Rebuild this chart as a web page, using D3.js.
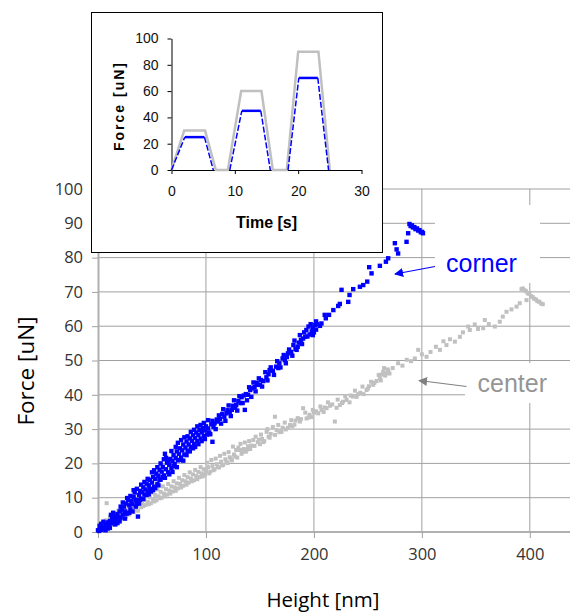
<!DOCTYPE html>
<html>
<head>
<meta charset="utf-8">
<script src="https://cdn.jsdelivr.net/npm/d3@7"></script>
<style>
  body { margin: 0; background: #fff; }
  svg { display: block; }
</style>
</head>
<body>
<svg id="chart" width="570" height="615"></svg>
<script>
// main chart ticks
var heightTicks = [0, 100, 200, 300, 400];
var forceTicks = [0, 10, 20, 30, 40, 50, 60, 70, 80, 90, 100];

// corner: [height nm, force uN]
var cornerPoints = [
  [0,0.5],[1,0.3],[2,1],[3,0.6],[1.5,1.8],[4,1.2],[5,0.8],[6,1.5],[7,2.2],[8,1.4],[9,2.8],[10,2],
  [11,3.2],[12,2.5],[13,4.1],[14,3],[15,3.8],[16,4.6],[17,3.5],[18,5.2],[19,4.4],[20,6],
  [21,4.2],[22,6.5],[23,5.1],[24,7.4],[25,6],[26,8.3],[27,5.4],[28,9.3],[29,7.8],[30,6.6],
  [31,9],[32,8.1],[33,10.2],[34,11.5],[35,9.4],[36,8.2],[37,4.5],[38,10.8],[39,12],[40,9.7],
  [41,11.6],[42,13],[43,10.9],[44,12.4],[45,14.1],[46,12],[47,13.6],[48,15.2],[49,11.8],[50,14.4],
  [51,16],[52,13.2],[53,15.5],[54,17],[55,14],[56,16.4],[57,18.1],[58,15.3],[59,17.6],[60,19],
  [61,16.5],[62,22.8],[63,18.3],[64,20.2],[65,17.4],[66,19.6],[67,21.3],[68,18.6],[69,20.7],[70,22.4],
  [71,19.8],[72,21.6],[73,23.5],[74,20.9],[75,22.8],[76,24.4],[77,21.7],[78,23.8],[79,25.5],[80,22.6],
  [81,24.6],[82,26.4],[83,23.7],[84,25.5],[85,27.3],[86,24.8],[87,26.6],[88,28.2],[89,25.7],[90,27.4],
  [91,29],[92,26.5],[93,28.3],[94,29.8],[95,27.2],[96,29.1],[97,30.3],[98,28],[99,29.6],[100,30.8],
  [3,2.4],[5,3],[7,0.5],[9,1],[11,1.2],[12,5],[14,5.6],[16,2.2],[18,2.6],[20,3.1],[21,7.4],[23,8.6],
  [25,3.9],[26,5.4],[27,9.9],[29,5.6],[30,10.5],[32,6],[33,12.2],[35,7.4],[36,12.6],[38,8.3],[39,9.4],
  [40,13.8],[42,9.6],[43,14.6],[45,10.8],[46,15.5],[47,11],[48,12.6],[50,17.4],[51,12.2],[52,18],
  [53,12.8],[55,18.9],[56,13.6],[57,15.2],[58,20],[60,16],[61,21.2],[62,15.8],[63,21.6],[65,20.8],
  [66,16.8],[68,23.6],[69,17.5],[70,19.2],[72,24.8],[73,18.9],[74,26],[76,21],[77,26.8],[79,20.8],
  [80,27.6],[82,22.4],[83,27.9],[85,23.5],[86,29.2],[88,24.4],[89,29.8],[90,24.8],[92,30.8],[93,25.6],
  [95,31.2],[96,26.5],[98,31.8],[99,27.1],
  [101,28.4],[102,30.2],[103,29],[105,31.4],[106,26.3],[107,30.6],[108,31.7],[110,32.8],[111,32.2],
  [113,33],[115,34.4],[117,33.6],[119,34.6],[120,35.5],[122,35],[124,35.6],[125,36.8],[127,36.2],
  [128,37],[130,38.2],[132,37.6],[133,39.3],[135,39.8],[136,35.6],[137,40.2],[139,40],[141,41.4],
  [143,41.9],[145,42.3],[147,43.5],[148,42.9],[150,42.9],
  [102,32.6],[104,28.5],[106,32.4],[109,30],[112,34],[114,31.6],[116,35.8],[118,32.4],[121,36.9],
  [123,33.8],[126,38.4],[129,35.4],[131,39.6],[134,37.6],[138,38.4],[140,42.2],[142,39.4],[144,43.6],
  [146,41],[149,44.8],[152,42.4],[155,46.6],[157,44.2],[160,48],[163,45.8],[166,49.8],[169,48],
  [172,51.6],[174,49.2],[177,53.2],[180,51.4],[182,55.8],[185,54],[187,57.4],[189,54.8],[191,58.2],
  [194,57],[197,60.6],[199,57.4],[202,61.4],
  [151,44.3],[153,44],[156,45.1],[158,46],[159,47.2],[162,47],[165,48.2],[167,47.8],[168,49.2],
  [171,50.6],[173,50.1],[175,51],[176,52.1],[179,52.5],[181,54.5],[183,53.4],[184,53.1],[186,55.2],
  [188,56],[190,56.4],[192,56.9],[193,58.9],[195,59.9],[196,57.6],[198,58.5],[199,59.5],[200,58.2],
  [201,60.3],[202,59],[203,60.6],
  [205.6,60.1],[207,60.8],[210,63.3],[211,62.3],[214,63.3],[218,64.7],[222.5,65.9],[224,66.5],
  [225.6,70.6],[231.8,67.1],[233,69.1],[236.4,70.8],[242.6,71.5],[245.7,72],[249.4,73],[251.2,77.2],
  [253.4,75.4],[261.1,77.6],[266.7,78.8],[268.8,79.8],[275,84.2],[276.6,82.4],[278,81.2],[285.8,84.6],
  [287.3,87.1],
  [288.5,89.8],[289.6,89.2],[290.8,89.4],[291.7,88.8],[293,88.9],[294.1,88.3],[295.5,88.5],
  [296.6,87.9],[297.8,88],[299,87.4],[300.2,87.5],[301,87.1]
];

// center: [height nm, force uN]
var centerPoints = [
  [1,0.4],[2,1.2],[3,0.5],[4,2.1],[5,1.4],[6,2.8],[7,1.9],[8,8.4],[9,3.1],[10,2.2],[11,3.6],[12,2.7],
  [13,4.2],[14,3.3],[15,4.8],[16,3.6],[17,5.3],[18,4.1],[19,5.7],[20,4.4],[22,5.2],[23,6.4],[24,4.8],
  [25,5.9],[27,6.6],[28,5.2],[30,6.1],
  [3,2],[5,0.6],[7,3.4],[9,1.5],[11,4.4],[13,2.1],[15,5.6],[17,2.9],[19,6.3],[21,3.6],[22,7],[24,6.5],
  [26,4.5],[27,7.8],[29,5.1],[31,8.4],[33,5.8],[34,9.2],[37,6.2],[39,9.8],[42,7.6],[45,10.6],[47,8.1],
  [50,11.5],[52,8.9],[55,12.4],[57,9.8],[60,13.3],[62,10.4],[65,14],[67,11.2],[70,14.8],[72,12],
  [75,15.8],[77,13],[80,16.6],[82,13.8],[85,17.4],[87,14.8],[90,18.1],[92,15.4],[95,18.9],[97,16.2],
  [32,6.8],[33,8],[35,6.4],[36,7.5],[38,8.6],[40,7.2],[41,8.3],[43,9.4],[44,7.9],[46,8.8],[48,10.1],
  [49,8.4],[51,9.6],[53,10.8],[54,9.2],[56,10.4],[58,11.7],[59,10],[61,11.2],[63,12.5],[64,10.9],
  [66,12.1],[68,13.3],[69,11.8],[71,13],[73,14.2],[74,12.7],[76,14],[78,15.1],[79,13.5],[81,14.8],
  [83,16],[84,14.4],[86,15.6],[88,16.8],[89,15.1],[91,16.3],[93,17.5],[94,16],[96,17.1],[98,18.3],
  [99,16.7],[100,17.8],
  [101,20.2],[103,17.1],[105,21],[107,18],[109,21.4],[111,19],[113,22.2],[115,19.4],[117,22.8],
  [119,20.4],[121,23.3],[123,21.4],[125,24.9],[127,22],[132,25.7],[134,23.4],[136,26.1],[138,24],
  [140,26.5],[142,25.2],[146,27.8],[149,26.9],[151,28.4],[153,26.2],[157,30],[159,27.5],[162,30.6],
  [164,28.3],[167,31.2],[170,29.2],[173,31.9],[176,30.4],[179,32.6],[182,31.3],[185,33.2],[188,32.9],
  [192,34.8],[195,33.4],[199,35.6],[202,35.2],[206,36.6],[210,36.3],[213,37.8],[217,37.2],[222,38.6],
  [226,37.6],[229,39.6],[234,39.8],[238,41.2],[241,40.2],[245,42.4],[250,41.8],[253,43.8],[256,43.5],
  [260,45.8],[262,44.2],[265,47.8],[269,46.8],
  [102,18.9],[104,17.6],[106,19.2],[108,18.3],[110,19.8],[112,18.8],[114,20.5],[116,19.6],[118,21.2],
  [120,20.1],[122,21.8],[124,20.9],[126,22.6],[128,23.9],[129,21.7],[130,24.6],[131.5,23.9],[133,22.8],
  [135,24.2],[137,23.4],[139,25],[141,24.2],[143.8,26.8],[145,25.1],[148,26.2],[150,25.6],[152,27.1],
  [154,26.5],[156.2,29.2],[158,27.8],[160,28.6],[163.9,33.6],[165.5,29.7],[168,29.1],[171,30.4],
  [174,29.9],[177.8,31.2],[180,30.8],[183,32.5],[187,32.2],[190,36.1],[193.2,33.1],[196,34.2],
  [198,33.5],[200,34.8],
  [204,34.6],[207,35.6],[209,35],[211.8,36.1],[215,36.8],[219.4,32.2],[221,36.2],[224,37],[227,38],
  [230.3,38.5],[233,37.8],[236,39.5],[239.5,39.4],[243,40.6],[246,40.2],[248.8,41.4],[251,42.5],
  [254.9,42.9],[258,44],[261.1,44.8],[263,45.9],[264.2,46.7],[266,45.6],[267.3,46.3],[268.5,47.4],
  [270,46.2],[273,47.8],[278,49.2],[282,48.5],[286,50.2],[290,49.8],[293.5,50.6],[296.6,53.1],[300,51.8],
  [304.3,51.1],[308,52.5],[313,54],[316.7,53.1],[320,55.6],[322.8,54.5],[326,56.2],[330.6,55.5],
  [335.2,56.9],[338,58.2],[342.9,59.9],[344.4,58.9],[349,60.5],[352,59.2],[356.8,59.4],[358.3,61.8],
  [362,60.6],[367.6,59.9],[372.2,61.3],[375,62.8],[378.4,64.2],[383,64.9],[387.7,65.7],[390.7,66.7],
  [392.3,70.8],[396.9,67.6],
  [393.5,71],[395,70.5],[396.4,70.2],[398,69.6],[399.5,69.4],[401,68.8],[402.6,68.5],[404,68],
  [405.7,67.8],[407,67.3],[408.8,67.1],[410.5,66.6],[412,66.4]
];

// inset: force vs time profiles
var insetTimeTicks = [0, 10, 20, 30];
var insetForceTicks = [0, 20, 40, 60, 80, 100];
var centerTime  = [0, 2, 5.3, 7, 8.9, 11, 14.2, 16, 18.2, 20, 23.2, 25];
var centerForce = [0, 30, 30, 0, 0, 60, 60, 0, 0, 90, 90, 0];
var cornerTime  = [0, 2.1, 5.2, 6.6, 9.2, 11.1, 14.1, 15.6, 18.4, 20.1, 23.1, 24.8];
var cornerForce = [0, 25, 25, 0, 0, 45, 45, 0, 0, 70, 70, 0];

var BLUE = '#0000ff', GRAY = '#c0c0c0';

var svg = d3.select('#chart');

var x = d3.scaleLinear().domain([0, 440]).range([98, 573]);
var y = d3.scaleLinear().domain([0, 100]).range([532, 189]);

// grid
var grid = svg.append('g');
grid.selectAll('.hg').data(forceTicks.slice(1)).join('line')
  .attr('x1', x(0)).attr('x2', x(440))
  .attr('y1', d => y(d)).attr('y2', d => y(d))
  .attr('stroke', '#a0a0a0').attr('stroke-width', 1);
grid.selectAll('.vg').data(heightTicks.slice(1)).join('line')
  .attr('x1', d => x(d)).attr('x2', d => x(d))
  .attr('y1', y(0)).attr('y2', y(100))
  .attr('stroke', '#a0a0a0').attr('stroke-width', 1);

// axes
var xAxis = svg.append('g')
  .attr('transform', 'translate(0,' + y(0) + ')')
  .call(d3.axisBottom(x).tickValues(heightTicks).tickSize(6).tickPadding(10).tickSizeOuter(0));
var yAxis = svg.append('g')
  .attr('transform', 'translate(' + x(0) + ',0)')
  .call(d3.axisLeft(y).tickValues(forceTicks).tickSize(6).tickPadding(9).tickSizeOuter(0));

[xAxis, yAxis].forEach(function(a) {
  a.select('.domain').attr('stroke', '#b0b0b0').attr('stroke-width', 2);
  a.selectAll('.tick line').attr('stroke', '#a0a0a0');
  a.selectAll('.tick text')
    .attr('fill', '#333')
    .style('font-family', '"Open Sans", sans-serif')
    .style('font-size', '16.5px');
});
xAxis.select('.domain').attr('d', 'M' + x(0) + ',0H' + x(440));

svg.append('text')
  .attr('x', 323).attr('y', 607)
  .attr('text-anchor', 'middle')
  .style('font-family', '"Open Sans", sans-serif')
  .style('font-size', '20.5px')
  .text('Height [nm]');

svg.append('text')
  .attr('transform', 'translate(34,371) rotate(-90)')
  .attr('text-anchor', 'middle')
  .style('font-family', '"Open Sans", sans-serif')
  .style('font-size', '22.5px')
  .text('Force [uN]');

// white label boxes
svg.append('rect').attr('x', 435).attr('y', 205).attr('width', 105).attr('height', 78).attr('fill', '#fff');
svg.append('rect').attr('x', 465).attr('y', 363).attr('width', 105).attr('height', 40).attr('fill', '#fff');

// scatter
svg.append('g').selectAll('rect').data(centerPoints).join('rect')
  .attr('x', d => x(d[0]) - 2).attr('y', d => y(d[1]) - 2)
  .attr('width', 4).attr('height', 4)
  .attr('fill', GRAY);
svg.append('g').selectAll('rect').data(cornerPoints).join('rect')
  .attr('x', d => x(d[0]) - 2.2).attr('y', d => y(d[1]) - 2.2)
  .attr('width', 4.4).attr('height', 4.4)
  .attr('fill', BLUE);

// arrows + labels
var defs = svg.append('defs');
function marker(id, col) {
  defs.append('marker').attr('id', id)
    .attr('viewBox', '0 0 10 10').attr('refX', 9).attr('refY', 5)
    .attr('markerWidth', 9).attr('markerHeight', 9).attr('markerUnits', 'userSpaceOnUse')
    .attr('orient', 'auto')
    .append('path').attr('d', 'M0,0L10,5L0,10z').attr('fill', col);
}
marker('ab', BLUE);
marker('ag', '#808080');

svg.append('line')
  .attr('x1', 435).attr('y1', 266.5).attr('x2', 395).attr('y2', 274)
  .attr('stroke', BLUE).attr('stroke-width', 1.2).attr('marker-end', 'url(#ab)');
svg.append('text').attr('x', 446).attr('y', 272)
  .attr('fill', BLUE)
  .style('font-family', '"Liberation Sans", Arial, sans-serif').style('font-size', '25px')
  .text('corner');

svg.append('line')
  .attr('x1', 466.5).attr('y1', 386.5).attr('x2', 419).attr('y2', 380.5)
  .attr('stroke', '#808080').attr('stroke-width', 1.2).attr('marker-end', 'url(#ag)');
svg.append('text').attr('x', 477.5).attr('y', 392)
  .attr('fill', '#959595')
  .style('font-family', '"Liberation Sans", Arial, sans-serif').style('font-size', '25px')
  .text('center');

// inset
var inset = svg.append('g');
inset.append('rect').attr('x', 91.5).attr('y', 12.5).attr('width', 291).attr('height', 240)
  .attr('fill', '#fff').attr('stroke', '#000').attr('stroke-width', 1);

var ix = d3.scaleLinear().domain([0, 30]).range([171.5, 361.5]);
var iy = d3.scaleLinear().domain([0, 100]).range([170, 38.5]);

var ixAxis = inset.append('g').attr('transform', 'translate(0,' + iy(0) + ')')
  .call(d3.axisBottom(ix).tickValues(insetTimeTicks).tickSize(4).tickPadding(12).tickSizeOuter(0));
var iyAxis = inset.append('g').attr('transform', 'translate(' + ix(0) + ',0)')
  .call(d3.axisLeft(iy).tickValues(insetForceTicks).tickSize(4).tickPadding(9).tickSizeOuter(0));
[ixAxis, iyAxis].forEach(function(a) {
  a.selectAll('.domain, .tick line').attr('stroke', '#000');
  a.selectAll('.tick text').attr('fill', '#111')
    .style('font-family', '"Liberation Sans", Arial, sans-serif')
    .style('font-size', '14px');
});

var grayLine = d3.line().x(d => ix(d[0])).y(d => iy(d[1]));
inset.append('path')
  .datum(centerTime.map((t, i) => [t, centerForce[i]]))
  .attr('d', grayLine)
  .attr('fill', 'none').attr('stroke', GRAY).attr('stroke-width', 2.5);

var segs = [];
for (var i = 1; i < cornerTime.length; i++) {
  if (cornerForce[i - 1] === 0 && cornerForce[i] === 0) continue;
  segs.push({ a: [cornerTime[i - 1], cornerForce[i - 1]], b: [cornerTime[i], cornerForce[i]],
              flat: cornerForce[i - 1] === cornerForce[i] });
}
inset.append('g').selectAll('line').data(segs).join('line')
  .attr('x1', d => ix(d.a[0])).attr('y1', d => iy(d.a[1]))
  .attr('x2', d => ix(d.b[0])).attr('y2', d => iy(d.b[1]))
  .attr('stroke', BLUE)
  .attr('stroke-width', d => d.flat ? 2.5 : 1.5)
  .attr('stroke-dasharray', d => d.flat ? null : '6,2');

inset.append('text')
  .attr('x', 266.5).attr('y', 228)
  .attr('text-anchor', 'middle')
  .style('font-family', '"Liberation Sans", Arial, sans-serif')
  .style('font-size', '16px').style('font-weight', 'bold')
  .text('Time [s]');
inset.append('text')
  .attr('transform', 'translate(124,106) rotate(-90)')
  .attr('text-anchor', 'middle')
  .style('font-family', '"Liberation Sans", Arial, sans-serif')
  .style('font-size', '14px').style('font-weight', 'bold')
  .style('letter-spacing', '2px')
  .text('Force [uN]');
</script>
</body>
</html>
